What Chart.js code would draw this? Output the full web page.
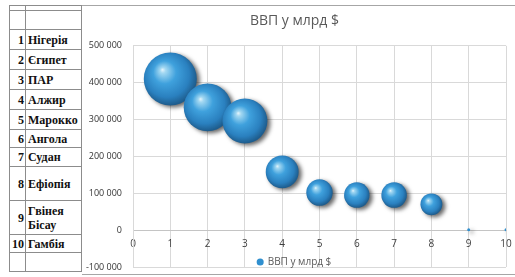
<!DOCTYPE html>
<html>
<head>
<meta charset="utf-8">
<script src="https://cdn.jsdelivr.net/npm/chart.js@4"></script>
<style>
  body { margin: 0; background: #fff; }
  #tbl {
    position: absolute; left: 9px; top: 5px;
    border-collapse: collapse; table-layout: fixed;
    font-family: "Liberation Serif", "Times New Roman", "DejaVu Serif", serif; font-size: 12px; color: #111;
    font-weight: bold;
  }
  #tbl td { border: 1px solid #8c8c8c; padding: 0 2px; line-height: 14px; overflow: hidden; }
  #tbl td.n { text-align: right; width: 12px; padding: 0 1px 0 2px; }
  #tbl td.c { width: 51px; }
  #frame {
    position: absolute; left: 82px; top: 5px; width: 433px; height: 268px;
    border-top: 1px solid #a6a6a6; border-bottom: 1px solid #a6a6a6;
  }
  #box { position: absolute; left: 83px; top: 6px; width: 430px; height: 267px; }
</style>
</head>
<body>
<table id="tbl"></table>
<div id="frame"></div>
<div id="box"><canvas id="bubbles"></canvas></div>
<script>
// дані
const nums = [1, 2, 3, 4, 5, 6, 7, 8, 9, 10];
const countries = ['Нігерія', 'Єгипет', 'ПАР', 'Алжир', 'Марокко', 'Ангола', 'Судан', 'Ефіопія', 'Гвінея Бісау', 'Гамбія'];
const gdp = [410000, 333000, 296000, 158000, 102000, 95000, 95000, 70000, 1000, 1000];
const yTicks = [-100000, 0, 100000, 200000, 300000, 400000, 500000];
const xTicks = [0, 1, 2, 3, 4, 5, 6, 7, 8, 9, 10];
const seriesName = 'ВВП у млрд $';

// таблиця зліва
const rowH = [20, 20, 20, 20, 20, 18, 19, 34, 34, 18];
const tbl = document.getElementById('tbl');
let html = '<tr style="height:5px"><td class="n"></td><td class="c"></td></tr>';
html += '<tr style="height:19px"><td class="n"></td><td class="c"></td></tr>';
nums.forEach((n, i) => {
  html += '<tr style="height:' + rowH[i] + 'px"><td class="n">' + n + '</td><td class="c">' + countries[i] + '</td></tr>';
});
html += '<tr style="height:19px"><td class="n"></td><td class="c"></td></tr>';
tbl.innerHTML = html;

const maxR = 26.5;
const maxV = Math.max(...gdp);
const radiusFor = v => Math.max(1.5, maxR * Math.sqrt(v / maxV));
const blue = '#2f8fcf';

const fmt = v => String(v).replace(/\B(?=(\d{3})+(?!\d))/g, ' ');

function sphere(ctx) {
  if (ctx.type !== 'data' || !ctx.raw) return blue;
  const ch = ctx.chart;
  const xs = ch.scales.x, ys = ch.scales.y;
  if (!xs || !ys) return blue;
  const cx = xs.getPixelForValue(ctx.raw.x);
  const cy = ys.getPixelForValue(ctx.raw.y);
  const r = radiusFor(ctx.raw.y);
  if (!isFinite(cx) || !isFinite(cy) || r < 3) return blue;
  const g = ch.ctx.createRadialGradient(cx - r * 0.3, cy - r * 0.35, 0, cx - r * 0.08, cy - r * 0.1, r * 1.08);
  g.addColorStop(0, '#e6f5fc');
  g.addColorStop(0.1, '#a3d8f2');
  g.addColorStop(0.4, '#3fa1dd');
  g.addColorStop(0.78, '#2a80bf');
  g.addColorStop(1, '#1e5d8e');
  return g;
}

const shadow = {
  id: 'shadow',
  beforeDatasetsDraw(chart) {
    const c = chart.ctx;
    c.save();
    c.shadowColor = 'rgba(0,0,0,0.6)';
    c.shadowBlur = 4;
    c.shadowOffsetX = 3;
    c.shadowOffsetY = 2;
  },
  afterDatasetsDraw(chart) { chart.ctx.restore(); }
};

const legendInside = {
  id: 'legendInside',
  afterLayout(chart) {
    const l = chart.legend;
    const h = l.height;
    l.top = chart.chartArea.bottom - 20;
    l.bottom = l.top + h;
  }
};

new Chart(document.getElementById('bubbles'), {
  type: 'bubble',
  data: {
    datasets: [{
      label: seriesName,
      data: nums.map((n, i) => ({ x: n, y: gdp[i] })),
      backgroundColor: sphere,
      borderWidth: 0,
      radius: ctx => radiusFor(ctx.raw ? ctx.raw.y : 0),
      hoverRadius: 0
    }]
  },
  options: {
    responsive: true,
    maintainAspectRatio: false,
    animation: false,
    layout: { autoPadding: false, padding: { left: 0, right: 7, top: 0, bottom: -24 } },
    scales: {
      x: {
        type: 'linear',
        position: { y: 0 },
        min: 0, max: 10,
        afterBuildTicks: s => { s.ticks = xTicks.map(v => ({ value: v })); },
        afterFit: s => { s.paddingLeft = 0; s.paddingRight = 0; },
        grid: { color: '#d9d9d9', tickLength: 5 },
        border: { color: '#c4c4c4' },
        ticks: { padding: 3, color: '#404040', font: { family: 'Open Sans', size: 10 } }
      },
      y: {
        min: -100000, max: 500000,
        afterBuildTicks: s => { s.ticks = yTicks.map(v => ({ value: v })); },
        afterFit: s => { s.width = 50; s.paddingTop = 0; s.paddingBottom = 0; },
        grid: { color: '#d9d9d9', drawTicks: false },
        border: { color: '#d9d9d9' },
        ticks: { padding: 11, color: '#333333', font: { family: 'Open Sans', size: 9 }, callback: v => fmt(v) }
      }
    },
    plugins: {
      title: {
        display: true,
        text: seriesName,
        color: '#595959',
        font: { family: 'Open Sans', size: 14, weight: 'normal' },
        padding: { top: 7, bottom: 16 }
      },
      legend: {
        position: 'bottom',
        labels: {
          usePointStyle: true,
          pointStyle: 'circle',
          boxWidth: 5,
          boxHeight: 5,
          padding: 10,
          color: '#595959',
          font: { family: 'Open Sans', size: 10 },
          generateLabels: chart => Chart.defaults.plugins.legend.labels.generateLabels(chart)
            .map(l => Object.assign(l, { fillStyle: blue, strokeStyle: blue, lineWidth: 0 }))
        }
      },
      tooltip: { enabled: false }
    }
  },
  plugins: [shadow, legendInside]
});
</script>
</body>
</html>
